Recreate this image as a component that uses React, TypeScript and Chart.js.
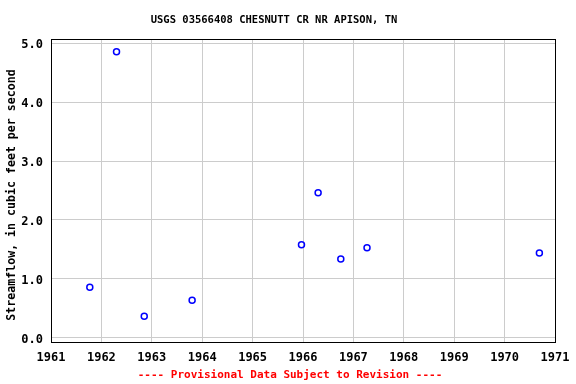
import React, { useEffect, useRef } from "react";
import { Chart, registerables } from "chart.js";

Chart.register(...registerables);

const TITLE = "USGS 03566408 CHESNUTT CR NR APISON, TN";
const FOOTER = "---- Provisional Data Subject to Revision ----";
const Y_TITLE = "Streamflow, in cubic feet per second";

const years = [1961.77, 1962.3, 1962.85, 1963.8, 1965.97, 1966.3, 1966.75, 1967.27, 1970.69];
const flows = [0.86, 4.85, 0.37, 0.64, 1.58, 2.46, 1.34, 1.53, 1.44];

const xTicks = [1961, 1962, 1963, 1964, 1965, 1966, 1967, 1968, 1969, 1970, 1971];
const yTicks = [0, 1, 2, 3, 4, 5];

const FONT = "'DejaVu Sans Mono', monospace";

const framePlugin = {
  id: "frame",
  afterDraw(chart: any) {
    const { ctx, chartArea } = chart;
    ctx.save();
    ctx.strokeStyle = "#000";
    ctx.lineWidth = 1;
    ctx.strokeRect(
      Math.round(chartArea.left) + 0.5,
      Math.round(chartArea.top) + 0.5,
      Math.round(chartArea.right - chartArea.left),
      Math.round(chartArea.bottom - chartArea.top)
    );
    ctx.textAlign = "center";
    ctx.textBaseline = "middle";
    ctx.fillStyle = "#000";
    ctx.font = "bold 10.5px " + FONT;
    ctx.fillText(TITLE, 274, 20);
    ctx.fillStyle = "#ff0000";
    ctx.font = "bold 11px " + FONT;
    ctx.fillText(FOOTER, 290, 375);
    ctx.fillStyle = "#000";
    ctx.font = "bold 11.6px " + FONT;
    ctx.translate(12, 195);
    ctx.rotate(-Math.PI / 2);
    ctx.fillText(Y_TITLE, 0, 0);
    ctx.restore();
  },
};

export default function App() {
  const ref = useRef<HTMLCanvasElement>(null);
  useEffect(() => {
    const chart = new Chart(ref.current!, {
      type: "scatter",
      data: {
        datasets: [
          {
            data: years.map((x, i) => ({ x, y: flows[i] })),
            borderColor: "#0000ff",
            backgroundColor: "rgba(0,0,0,0)",
            pointRadius: 3,
            pointBorderWidth: 1.5,
            pointStyle: "circle",
          },
        ],
      },
      options: {
        responsive: false,
        animation: false,
        layout: { padding: { top: 39, right: 21, left: 0, bottom: 0 } },
        plugins: { legend: { display: false }, tooltip: { enabled: false } },
        scales: {
          x: {
            type: "linear",
            min: 1961,
            max: 1971,
            afterFit: (s: any) => {
              s.height = 42;
              s.paddingRight = 0;
              s.paddingLeft = 0;
            },
            afterBuildTicks: (s: any) => {
              s.ticks = xTicks.map((v) => ({ value: v }));
            },
            grid: { color: "#cccccc", drawTicks: false },
            border: { color: "#000", width: 1 },
            ticks: {
              padding: 9,
              color: "#000",
              font: { family: FONT, size: 12, weight: "bold" },
              maxRotation: 0,
              autoSkip: false,
              callback: (v: any) => String(v),
            },
          },
          y: {
            type: "linear",
            min: -0.068,
            max: 5.068,
            afterFit: (s: any) => {
              s.width = 51;
              s.paddingTop = 0;
              s.paddingBottom = 0;
            },
            afterBuildTicks: (s: any) => {
              s.ticks = yTicks.map((v) => ({ value: v }));
            },
            grid: { color: "#cccccc", drawTicks: false },
            border: { color: "#000", width: 1 },
            ticks: {
              padding: 8,
              labelOffset: 2,
              color: "#000",
              font: { family: FONT, size: 12, weight: "bold" },
              callback: (v: any) => Number(v).toFixed(1),
            },
          },
        },
      },
      plugins: [framePlugin],
    } as any);
    return () => chart.destroy();
  }, []);
  return (
    <div style={{ position: "absolute", left: 0, top: 0, width: 576, height: 384, background: "#fff" }}>
      <canvas ref={ref} width={576} height={384} />
    </div>
  );
}
